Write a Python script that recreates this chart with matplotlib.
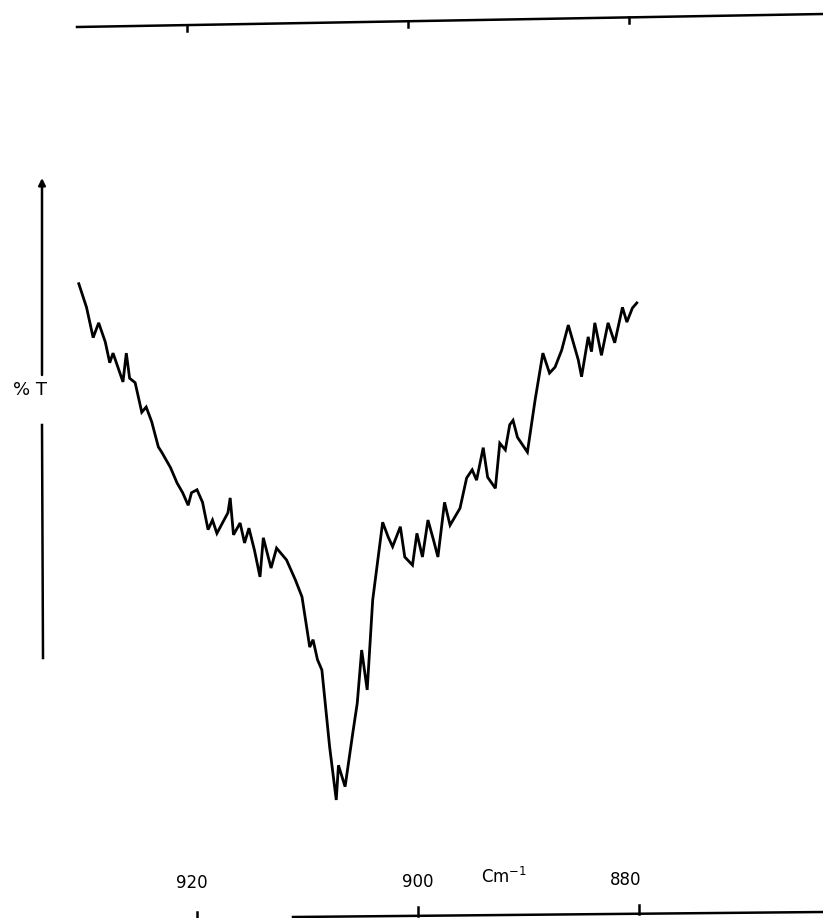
import numpy as np
import matplotlib.pyplot as plt
from matplotlib.lines import Line2D

# IR transmission trace (cm-1, arbitrary %T)
wavenumber = [
    930.7, 930.0, 929.4, 928.9, 928.3, 927.9, 927.6, 926.7, 926.4, 926.1,
    925.6, 925.0, 924.6, 924.1, 923.5, 923.2, 922.4, 921.8, 921.3, 920.8,
    920.5, 920.0, 919.5, 919.0, 918.6, 918.2, 917.7, 917.2, 917.0, 916.7,
    916.1, 915.7, 915.3, 914.8, 914.3, 914.0, 913.3, 912.8, 911.9, 911.1,
    910.5, 909.8, 909.5, 909.1, 908.7, 908.0, 907.4, 907.2, 906.6, 905.9,
    905.5, 905.1, 904.6, 904.1, 903.2, 902.7, 902.3, 901.6, 901.2, 900.5,
    900.1, 899.6, 899.1, 898.6, 898.2, 897.6, 897.1, 896.2, 895.6, 895.1,
    894.7, 894.1, 893.7, 893.0, 892.6, 892.1, 891.7, 891.4, 891.0, 890.1,
    889.4, 888.7, 888.1, 887.6, 887.0, 886.4, 885.5, 885.2, 884.6, 884.3,
    884.0, 883.4, 882.8, 882.2, 881.5, 881.1, 880.6, 880.2,
]
transmittance = [
    79.9, 76.7, 72.6, 74.6, 72.0, 69.2, 70.5, 66.6, 70.5, 67.1,
    66.5, 62.5, 63.2, 61.2, 57.8, 57.1, 55.0, 52.9, 51.6, 49.9,
    51.6, 52.0, 50.3, 46.6, 47.9, 46.1, 47.5, 48.9, 50.9, 45.9,
    47.5, 44.8, 46.8, 43.8, 40.2, 45.5, 41.4, 44.1, 42.5, 39.8,
    37.5, 30.7, 31.7, 29.0, 27.6, 17.2, 10.0, 14.7, 11.8, 19.1,
    23.1, 30.3, 24.9, 37.1, 47.6, 45.6, 44.3, 47.0, 42.9, 41.8,
    46.1, 42.9, 47.9, 45.2, 42.9, 50.3, 47.2, 49.5, 53.6, 54.7,
    53.3, 57.7, 53.7, 52.2, 58.3, 57.4, 60.8, 61.4, 59.1, 57.1,
    64.2, 70.5, 67.8, 68.6, 70.9, 74.3, 69.6, 67.3, 72.7, 70.7,
    74.6, 70.2, 74.6, 71.9, 76.7, 74.7, 76.6, 77.3,
]

tick_values = [920, 900, 880]
tick_labels = ['920', '900', '880']

W, H = 823, 918
XLIM = (937.83, 863.35)
YLIM = (-5.98, 118.31)


def fx(px):
    return px / W


def fy(py):
    return 1 - py / H


fig = plt.figure(figsize=(W / 100, H / 100), dpi=100)
ax = fig.add_axes([0, 0, 1, 1])
ax.set_xlim(*XLIM)
ax.set_ylim(*YLIM)
ax.axis('off')

ax.plot(wavenumber, transmittance, color='black', lw=2.0,
        solid_joinstyle='miter')

# data x -> figure fraction
def wx(v):
    return (v - XLIM[0]) / (XLIM[1] - XLIM[0])


ink = dict(color='black', lw=1.8, transform=fig.transFigure)

# top chart rule (slightly skewed like the scan)
top_x = [fx(77), fx(823)]
top_y = [fy(27), fy(14)]
fig.add_artist(Line2D(top_x, top_y, **ink))
for v in tick_values:
    x = wx(v + 0.95)
    y = np.interp(x, top_x, top_y)
    fig.add_artist(Line2D([x, x], [y, y - 6 / H], **ink))

# bottom rule with ticks
bot_x = [fx(293), fx(823)]
bot_y = [fy(917), fy(912)]
fig.add_artist(Line2D(bot_x, bot_y, **ink))
tick_len = [5, 9, 9]
label_shift = [0.45, 0.0, 1.2]
for v, lab, tl, sh in zip(tick_values, tick_labels, tick_len, label_shift):
    x = wx(v)
    y = np.interp(x, bot_x, bot_y, left=bot_y[0])
    fig.add_artist(Line2D([x, x], [y, y + tl / H], **ink))
    fig.text(wx(v + sh), y + 25 / H, lab, ha='center', va='bottom',
             fontsize=12, family='DejaVu Sans')

fig.text(fx(504), fy(877), 'Cm$^{-1}$', ha='center', va='center', fontsize=12)

# left %T axis with arrow
ax.annotate('', xy=(fx(42), fy(178)), xytext=(fx(42), fy(375)),
            xycoords='figure fraction', textcoords='figure fraction',
            arrowprops=dict(arrowstyle='-|>', lw=1.8, color='black',
                            mutation_scale=10, shrinkA=0, shrinkB=0))
fig.add_artist(Line2D([fx(42), fx(43)], [fy(425), fy(658)], **ink))
fig.text(fx(30), fy(390), '% T', ha='center', va='center', fontsize=13)

fig.savefig('out.png', dpi=100, facecolor='white')
